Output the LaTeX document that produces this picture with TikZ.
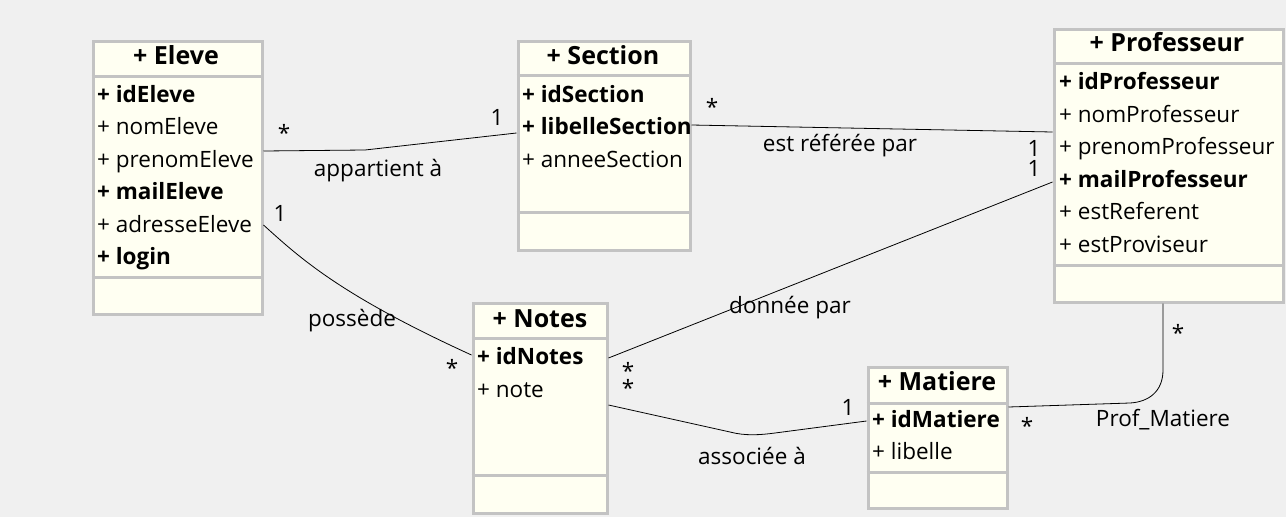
\documentclass[tikz,border=0pt]{standalone}
\usepackage{fontspec}
\setmainfont{Open Sans}
\definecolor{bg}{HTML}{F0F0F0}
\definecolor{cream}{HTML}{FFFFF2}
\definecolor{boxgray}{HTML}{C3C3C3}
\begin{document}
\begin{tikzpicture}[x=1pt,y=-1pt,
  cls/.style={draw=boxgray,line width=3pt,fill=cream,inner sep=0pt,anchor=north west},
  divider/.style={draw=boxgray,line width=3pt},
  title/.style={font=\fontsize{25}{30}\selectfont\bfseries,inner sep=0pt,anchor=mid},
  attr/.style={font=\fontsize{22.5}{27}\selectfont,inner sep=0pt,anchor=mid west},
  key/.style={attr,font=\fontsize{22.5}{27}\selectfont\bfseries},
  lbl/.style={font=\fontsize{22.5}{27}\selectfont,inner sep=0pt,anchor=mid},
  conn/.style={draw=black,line width=0.8pt}]
\fill[bg] (0,0) rectangle (1286,517);
\useasboundingbox (0,0) rectangle (1286,517);
% classes
\node[cls,minimum width=169pt,minimum height=273pt] (eleve) at (91.5,39.5) {};
\node[cls,minimum width=172pt,minimum height=209pt] (section) at (516.5,39.5) {};
\node[cls,minimum width=229pt,minimum height=273pt] (prof) at (1052.5,27.5) {};
\node[cls,minimum width=134pt,minimum height=210pt] (notes) at (471.5,301.5) {};
\node[cls,minimum width=139pt,minimum height=141pt] (matiere) at (866.5,365.5) {};
% dividers
\draw[divider] (eleve.west |- 0,76) -- (eleve.east |- 0,76);
\draw[divider] (eleve.west |- 0,277) -- (eleve.east |- 0,277);
\draw[divider] (section.west |- 0,75) -- (section.east |- 0,75);
\draw[divider] (section.west |- 0,212) -- (section.east |- 0,212);
\draw[divider] (prof.west |- 0,63) -- (prof.east |- 0,63);
\draw[divider] (prof.west |- 0,265) -- (prof.east |- 0,265);
\draw[divider] (notes.west |- 0,338) -- (notes.east |- 0,338);
\draw[divider] (notes.west |- 0,475) -- (notes.east |- 0,475);
\draw[divider] (matiere.west |- 0,403) -- (matiere.east |- 0,403);
\draw[divider] (matiere.west |- 0,472) -- (matiere.east |- 0,472);
% titles
\node[title] (televe) at (176,62) {+ Eleve};
\node[title] (tsection) at (603,62) {+ Section};
\node[title] (tprof) at (1167,49) {+ Professeur};
\node[title] (tnotes) at (540,325) {+ Notes};
\node[title] (tmatiere) at (937,388) {+ Matiere};
% Eleve attributes
\node[key]  (e1) at (97,100)  {+ idEleve};
\node[attr] (e2) at (97,132) {+ nomEleve};
\node[attr] (e3) at (97,165) {+ prenomEleve};
\node[key]  (e4) at (97,197) {+ mailEleve};
\node[attr] (e5) at (97,230) {+ adresseEleve};
\node[key]  (e6) at (97,262) {+ login};
% Section attributes
\node[key]  (s1) at (522,100)  {+ idSection};
\node[key]  (s2) at (522,132) {+ libelleSection};
\node[attr] (s3) at (522,165) {+ anneeSection};
% Professeur attributes
\node[key]  (p1) at (1059,87)  {+ idProfesseur};
\node[attr] (p2) at (1059,120) {+ nomProfesseur};
\node[attr] (p3) at (1059,152) {+ prenomProfesseur};
\node[key]  (p4) at (1059,185) {+ mailProfesseur};
\node[attr] (p5) at (1059,217) {+ estReferent};
\node[attr] (p6) at (1059,250) {+ estProviseur};
% Notes attributes
\node[key]  (n1) at (477,362) {+ idNotes};
\node[attr] (n2) at (477,395) {+ note};
% Matiere attributes
\node[key]  (m1) at (872,425) {+ idMatiere};
\node[attr] (m2) at (872,457) {+ libelle};
% connectors
\draw[conn] (eleve.east |- 0,151) -- (365,150) -- (section.west |- 0,133);
\draw[conn] (section.east |- 0,125) -- (prof.west |- 0,132);
\draw[conn] (notes.east |- 0,358) -- (prof.west |- 0,182);
\draw[conn] (eleve.east |- 0,225) .. controls (300,258) and (340,295) .. (notes.west |- 0,355);
\draw[conn] (notes.east |- 0,405) -- (730,432) .. controls (745,436) and (760,435) .. (775,433) -- (matiere.west |- 0,421);
\draw[conn] (prof.south -| 1163,0) -- (1163,370) .. controls (1163,392) and (1148,402) .. (1130,403) -- (matiere.east |- 0,407);
% labels
\node[lbl] (l1) at (284,139) {*};
\node[lbl] (l2) at (497,123) {1};
\node[lbl] (l3) at (378,174) {appartient à};
\node[lbl] (l4) at (712,113) {*};
\node[lbl] (l5) at (840,149) {est référée par};
\node[lbl] (l6) at (1034,154) {1};
\node[lbl] (l7) at (1034,174) {1};
\node[lbl] (l8) at (790,311) {donnée par};
\node[lbl] (l9) at (280,219) {1};
\node[lbl] (l10) at (352,324) {possède};
\node[lbl] (l11) at (452,374) {*};
\node[lbl] (l12) at (628,377) {*};
\node[lbl] (l13) at (628,394) {*};
\node[lbl] (l14) at (848,413) {1};
\node[lbl] (l15) at (752,462) {associée à};
\node[lbl] (l16) at (1178,339) {*};
\node[lbl] (l17) at (1027,432) {*};
\node[lbl] (l18) at (1163,424) {Prof\_Matiere};
\end{tikzpicture}
\end{document}
